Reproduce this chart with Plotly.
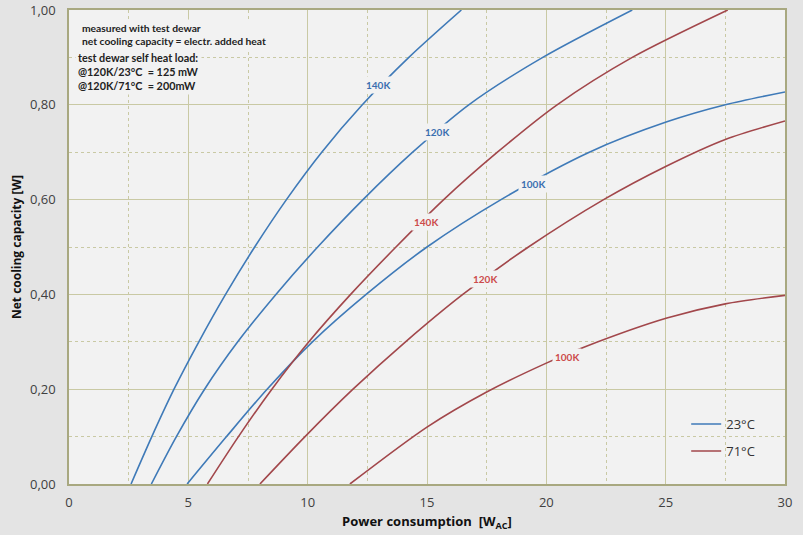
import plotly.graph_objects as go

# ---- data ----
b140_x = [2.6, 3.47, 4.4, 5.44, 6.56, 7.78, 9.11, 10.59, 12.29, 14.24, 16.44]
b140_y = [0.0, 0.10, 0.20, 0.30, 0.40, 0.50, 0.60, 0.70, 0.80, 0.90, 1.0]

b120_x = [3.45, 4.5, 5.68, 7.07, 8.67, 10.42, 12.32, 14.4, 16.75, 19.85, 23.6]
b120_y = [0.0, 0.10, 0.20, 0.30, 0.40, 0.50, 0.60, 0.70, 0.80, 0.90, 1.0]

b100_x = [4.95, 6.6, 8.3, 10.2, 12.45, 15.0, 18.1, 21.8, 25.05, 27.5, 30.0]
b100_y = [0.0, 0.10, 0.20, 0.30, 0.40, 0.50, 0.60, 0.70, 0.764, 0.80, 0.827]

r140_x = [5.8, 7.1, 8.5, 10.05, 11.8, 13.7, 15.7, 17.95, 20.45, 23.6, 27.6]
r140_y = [0.0, 0.10, 0.20, 0.30, 0.40, 0.50, 0.60, 0.70, 0.80, 0.90, 1.0]

r120_x = [8.0, 9.89, 11.9, 14.1, 16.5, 19.25, 22.4, 25.0, 27.5, 30.0]
r120_y = [0.0, 0.10, 0.20, 0.30, 0.40, 0.50, 0.60, 0.67, 0.727, 0.766]

r100_x = [11.77, 15.0, 17.5, 20.0, 21.6, 25.05, 27.5, 30.0]
r100_y = [0.0, 0.12, 0.194, 0.255, 0.289, 0.35, 0.38, 0.398]

x_ticks = [0, 5, 10, 15, 20, 25, 30]
y_ticks = [0.0, 0.2, 0.4, 0.6, 0.8, 1.0]

# curve labels: (text, x, y, colour-group)
labels = [
    ("140K", 12.95, 0.842, "b"),
    ("120K", 15.4, 0.742, "b"),
    ("100K", 19.45, 0.632, "b"),
    ("140K", 14.95, 0.553, "r"),
    ("120K", 17.45, 0.433, "r"),
    ("100K", 20.85, 0.268, "r"),
]

BLUE = "#3f7ab8"
RED = "#a2474b"
LBL = {"b": "#3a6fb0", "r": "#cc4b4b"}
PLOT_BG = "#f2f2f2"

fig = go.Figure()
series = [
    (b140_x, b140_y, BLUE, "23°C", True),
    (b120_x, b120_y, BLUE, "23°C", False),
    (b100_x, b100_y, BLUE, "23°C", False),
    (r140_x, r140_y, RED, "71°C", True),
    (r120_x, r120_y, RED, "71°C", False),
    (r100_x, r100_y, RED, "71°C", False),
]
for xs, ys, col, name, show in series:
    fig.add_trace(go.Scatter(
        x=xs, y=ys, mode="lines", name=name, showlegend=show,
        legendgroup=name,
        line=dict(color=col, width=1.6, shape="spline", smoothing=0.8),
    ))

for txt, lx, ly, grp in labels:
    fig.add_annotation(
        x=lx, y=ly, text=f"<b>{txt}</b>", showarrow=False,
        font=dict(family="Lato", size=10, color=LBL[grp]),
        bgcolor=PLOT_BG, borderpad=2,
    )

info1 = ("<b>measured with test dewar</b><br>"
         "<b>net cooling capacity = electr. added heat</b>")
info2 = ("<b>test dewar self heat load:</b><br>"
         "<b>@120K/23°C  = 125 mW</b><br>"
         "<b>@120K/71°C  = 200mW</b>")
fig.add_annotation(
    xref="paper", yref="paper", x=0.014, y=0.981, xanchor="left", yanchor="top",
    text=info1, showarrow=False, align="left",
    font=dict(family="Lato", size=10.3, color="#222222"),
    bgcolor=PLOT_BG, borderpad=2,
)
fig.add_annotation(
    xref="paper", yref="paper", x=0.008, y=0.870, xanchor="left", yanchor="middle",
    text=info2, showarrow=False, align="left",
    font=dict(family="Lato", size=10.8, color="#222222"),
    bgcolor=PLOT_BG, borderpad=2,
)

grid_col = "#c9c9a4"
fig.update_layout(
    width=803, height=535,
    margin=dict(l=69, r=18, t=10, b=51),
    paper_bgcolor="#e4e4e4",
    plot_bgcolor=PLOT_BG,
    separators=",.",
    font=dict(family="Open Sans", color="#333333"),
    showlegend=True,
    legend=dict(
        x=0.862, y=0.158, xanchor="left", yanchor="top",
        bgcolor="rgba(0,0,0,0)", font=dict(size=13, color="#333333"),
        tracegroupgap=7,
    ),
    xaxis=dict(
        range=[0, 30], tickvals=x_ticks, ticktext=[str(v) for v in x_ticks],
        automargin=False,
        showgrid=True, gridcolor=grid_col, gridwidth=1.2,
        minor=dict(dtick=2.5, showgrid=True, gridcolor=grid_col, griddash="dot", gridwidth=1),
        showline=True, linecolor="#a8a880", linewidth=1.5, mirror=True,
        zeroline=False, tickfont=dict(size=13, color="#404040"),
        ticks="", ticklabelstandoff=6,
        title=dict(text="<b>Power consumption  [W<sub>AC</sub>]</b>",
                   font=dict(size=13, color="#111111"), standoff=7),
    ),
    yaxis=dict(
        range=[0, 1.0], tickvals=y_ticks, tickformat=".2f",
        automargin=False,
        showgrid=True, gridcolor=grid_col, gridwidth=1.2,
        minor=dict(dtick=0.1, showgrid=True, gridcolor=grid_col, griddash="dot", gridwidth=1),
        showline=True, linecolor="#a8a880", linewidth=1.5, mirror=True,
        zeroline=False, tickfont=dict(size=13, color="#404040"),
        ticks="", ticklabelstandoff=9,
        title=dict(text="<b>Net cooling capacity [W]</b>",
                   font=dict(size=12, color="#111111"), standoff=6),
    ),
)

fig.write_html("out.html", config={"displayModeBar": False},
               post_script="document.body.style.margin='0px';")
